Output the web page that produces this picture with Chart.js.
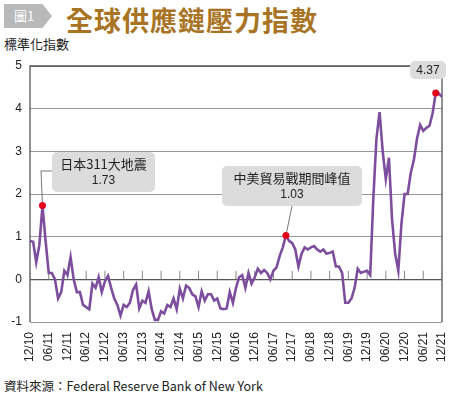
<!DOCTYPE html>
<html><head><meta charset="utf-8">
<script src="https://cdn.jsdelivr.net/npm/chart.js@4"></script>
<style>
body{margin:0;width:459px;height:402px;background:#fff;font-family:"Noto Sans CJK TC","Noto Sans",sans-serif;position:relative;overflow:hidden}
#hdr{position:absolute;left:4px;top:4px;width:48px;height:24px;background:#b9b9b9;clip-path:polygon(0 0,80% 0,100% 50%,80% 100%,0 100%);color:#fff;font-size:13px;line-height:24px;padding-left:10px;box-sizing:border-box}
#title{position:absolute;left:66px;top:0px;font-size:27px;font-weight:bold;color:#a87424;font-family:"Noto Sans CJK TC";letter-spacing:1px}
#yl{position:absolute;left:4px;top:34px;font-size:13px;color:#222}
#src{position:absolute;left:4px;top:376px;font-size:12.5px;color:#222}
canvas{position:absolute;left:0;top:0}
</style></head><body>
<div id="hdr">圖1</div><div id="title">全球供應鏈壓力指數</div>
<div id="yl">標準化指數</div>
<div id="src">資料來源：Federal Reserve Bank of New York</div>
<canvas id="c" width="459" height="402"></canvas>
<script>
const tickLabels=["12/10","06/11","12/11","06/12","12/12","06/13","12/13","06/14","12/14","06/15","12/15","06/16","12/16","06/17","12/17","06/18","12/18","06/19","12/19","06/20","12/20","06/21","12/21"];
const values=[0.9,0.88,0.4,0.8,1.73,0.9,0.15,0.15,0.0,-0.45,-0.3,0.2,0.1,0.52,0.0,-0.3,-0.3,-0.6,-0.65,-0.7,-0.1,-0.2,0.05,-0.3,-0.05,0.08,-0.2,-0.45,-0.6,-0.85,-0.6,-0.65,-0.55,-0.25,-0.12,-0.68,-0.5,-0.55,-0.28,-0.7,-0.95,-0.95,-0.75,-0.8,-0.6,-0.65,-0.45,-0.7,-0.22,-0.45,-0.15,-0.2,-0.35,-0.4,-0.65,-0.28,-0.5,-0.35,-0.35,-0.5,-0.45,-0.68,-0.7,-0.68,-0.3,-0.55,-0.2,0.05,0.1,-0.2,0.15,-0.1,0.05,0.25,0.15,0.22,0.15,0.0,0.2,0.28,0.55,0.75,1.03,0.9,0.85,0.7,0.3,0.6,0.75,0.7,0.75,0.78,0.7,0.65,0.7,0.6,0.62,0.65,0.3,0.3,0.15,-0.55,-0.55,-0.45,-0.2,0.25,0.15,0.18,0.2,0.1,1.9,3.3,3.92,3.0,2.35,2.85,1.4,0.6,0.2,1.3,2.0,2.0,2.5,2.8,3.3,3.62,3.48,3.55,3.6,3.9,4.37,4.35,4.28];
const labels=values.map((v,i)=>i%6===0?tickLabels[i/6]:"");
const marks=[{i:4,text:["日本311大地震","1.73"]},{i:82,text:["中美貿易戰期間峰值","1.03"]},{i:130,text:["4.37"]}];
const deco={id:'deco',
 beforeDatasetsDraw(ch){const c=ch.ctx,x=ch.scales.x,y=ch.scales.y,a=ch.chartArea;
  c.save();c.strokeStyle='#555';c.lineWidth=1.3;
  c.beginPath();c.moveTo(a.left,a.bottom);c.lineTo(a.left,a.top);c.lineTo(a.right,a.top);c.lineTo(a.right,a.bottom);c.stroke();
  c.strokeStyle='#888';c.lineWidth=1;
  for(let i=0;i<values.length;i+=6){const px=x.getPixelForValue(i);c.beginPath();c.moveTo(px,y.getPixelForValue(0));c.lineTo(px,y.getPixelForValue(0.2));c.stroke();}
  c.restore();},
 afterDatasetsDraw(ch){const c=ch.ctx,x=ch.scales.x,y=ch.scales.y;
  c.save();
  const boxes=[{x:52,y:152,w:103,h:40,lx:41,ly:171},{x:222,y:166,w:140,h:40,lx:292,ly:206},{x:410,y:61,w:36,h:18,lx:436,ly:79}];
  marks.forEach((m,k)=>{const px=x.getPixelForValue(m.i),py=y.getPixelForValue(values[m.i]),b=boxes[k];
   c.strokeStyle='#555';c.lineWidth=0.8;c.beginPath();
   if(k===0){c.moveTo(px,py);c.lineTo(b.lx,b.ly);c.lineTo(b.x,b.ly);}else if(k===1){c.moveTo(px,py);c.lineTo(b.lx,b.ly);}
   c.stroke();
   c.fillStyle='#dcdcdc';c.beginPath();c.roundRect(b.x,b.y,b.w,b.h,5);c.fill();
   c.fillStyle='#222';c.textAlign='center';c.textBaseline='middle';
   c.font='13px "Noto Sans CJK TC"';
   if(m.text.length===2){c.fillText(m.text[0],b.x+b.w/2,b.y+12);c.font='12px "Liberation Sans"';c.fillText(m.text[1],b.x+b.w/2,b.y+29);}
   else{c.font='12px "Liberation Sans"';c.fillText(m.text[0],b.x+b.w/2,b.y+b.h/2+1);}
   c.fillStyle='#e3001b';c.beginPath();c.arc(px,py,3.5,0,Math.PI*2);c.fill();
  });
  c.restore();}};
new Chart(document.getElementById('c'),{type:'line',
 data:{labels,datasets:[{data:values,borderColor:'#7d4e9e',borderWidth:2.6,pointRadius:0,tension:0}]},
 options:{responsive:false,animation:false,layout:{padding:{top:66,right:17,bottom:37,left:0}},
  plugins:{legend:{display:false},tooltip:{enabled:false}},
  scales:{
   x:{grid:{display:false},border:{display:false},afterFit(s){s.height=43;},
      ticks:{autoSkip:false,maxRotation:90,minRotation:90,color:'#222',font:{family:'Liberation Sans',size:12},padding:2}},
   y:{min:-1,max:5,afterFit(s){s.width=30;},border:{display:false},
      grid:{color:c=>c.tick.value===0?'#555':'#999',lineWidth:c=>c.tick.value===0?1.3:1,drawTicks:false},
      ticks:{stepSize:1,color:'#222',font:{family:'Liberation Sans',size:12},padding:8}}}},
 plugins:[deco]});
</script></body></html>
